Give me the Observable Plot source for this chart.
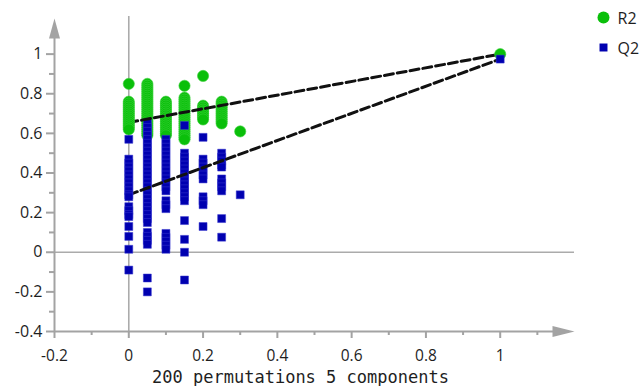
<!DOCTYPE html>
<html><head><meta charset="utf-8">
<script src="https://cdn.jsdelivr.net/npm/d3@7"></script>
<script src="https://cdn.jsdelivr.net/npm/@observablehq/plot@0.6"></script>
<style>
html,body{margin:0;padding:0;background:#fff;}
</style>
</head><body><div id="chart"></div>
<script>
// Permutation correlation positions (x) and the R2 / Q2 values read at each
const permCorr = [0, 0.05, 0.1, 0.15, 0.2, 0.25, 0.3];
const r2Perm = [
  [0.85, 0.76, 0.75, 0.74, 0.73, 0.72, 0.71, 0.70, 0.69, 0.68, 0.67, 0.66, 0.65, 0.64, 0.63, 0.62],
  [0.85, 0.84, 0.83, 0.82, 0.81, 0.80, 0.79, 0.78, 0.77, 0.76, 0.75, 0.74, 0.73, 0.72, 0.71, 0.70, 0.69, 0.68, 0.67, 0.66, 0.65, 0.64, 0.63, 0.62, 0.61, 0.60, 0.59],
  [0.76, 0.75, 0.74, 0.73, 0.72, 0.71, 0.70, 0.69, 0.68, 0.67, 0.66, 0.65, 0.64, 0.63, 0.62, 0.61, 0.60, 0.59],
  [0.84, 0.78, 0.77, 0.76, 0.75, 0.74, 0.73, 0.72, 0.71, 0.70, 0.69, 0.68, 0.67, 0.66, 0.65, 0.64, 0.63, 0.62, 0.61, 0.60, 0.59, 0.58, 0.57],
  [0.89, 0.74, 0.73, 0.72, 0.71, 0.70, 0.69, 0.68, 0.67],
  [0.76, 0.75, 0.74, 0.73, 0.72, 0.71, 0.70, 0.69, 0.68, 0.67, 0.66, 0.65],
  [0.61]
];
const q2Perm = [
  [0.57, 0.47, 0.45, 0.43, 0.41, 0.39, 0.37, 0.35, 0.33, 0.31, 0.29, 0.28, 0.23, 0.21, 0.19, 0.18, 0.13, 0.08, 0.015, -0.09],
  [0.65, 0.63, 0.61, 0.59, 0.57, 0.55, 0.53, 0.51, 0.49, 0.47, 0.45, 0.43, 0.41, 0.39, 0.37, 0.35, 0.33, 0.31, 0.29, 0.27, 0.25, 0.23, 0.21, 0.19, 0.17, 0.15, 0.10, 0.08, 0.06, 0.04, -0.13, -0.20],
  [0.57, 0.55, 0.53, 0.51, 0.49, 0.47, 0.45, 0.43, 0.41, 0.39, 0.37, 0.35, 0.33, 0.31, 0.26, 0.24, 0.22, 0.095, 0.075, 0.055, 0.035, 0.015],
  [0.64, 0.50, 0.48, 0.46, 0.44, 0.42, 0.40, 0.38, 0.36, 0.34, 0.32, 0.30, 0.28, 0.26, 0.16, 0.065, 0.0, -0.14],
  [0.58, 0.47, 0.45, 0.43, 0.41, 0.39, 0.37, 0.28, 0.26, 0.24, 0.13],
  [0.50, 0.48, 0.46, 0.44, 0.43, 0.37, 0.35, 0.33, 0.31, 0.17, 0.076],
  [0.29]
];
// Original model
const origCorr = [1];
const origR2 = [1.0];
const origQ2 = [0.975];
// Regression line intercepts at correlation 0
const r2Intercept = 0.655;
const q2Intercept = 0.29;

const seriesNames = ["R2", "Q2"];
const caption = "200 permutations 5 components";
const xTicks = [-0.2, 0, 0.2, 0.4, 0.6, 0.8, 1];
const xMinorTicks = [-0.1, 0.1, 0.3, 0.5, 0.7, 0.9, 1.1];
const yTicks = [-0.4, -0.2, 0, 0.2, 0.4, 0.6, 0.8, 1];
const yMinorTicks = [-0.3, -0.1, 0.1, 0.3, 0.5, 0.7, 0.9];
const xDomain = [-0.2, 1.2];
const yDomain = [-0.4, 1.2];

// ---- build tables ----
const r2Data = permCorr.flatMap((c, i) => r2Perm[i].map(v => ({c, v})))
  .concat(origCorr.map((c, i) => ({c, v: origR2[i]})));
const q2Data = permCorr.flatMap((c, i) => q2Perm[i].map(v => ({c, v})))
  .concat(origCorr.map((c, i) => ({c, v: origQ2[i]})));
const r2Line = [{c: 0, v: r2Intercept}, {c: origCorr[0], v: origR2[0]}];
const q2Line = [{c: 0, v: q2Intercept}, {c: origCorr[0], v: origQ2[0]}];

const GREEN = "#0abf0a";
const BLUE = "#0000b0";
const AXIS = "#a3a3a3";
const TEXT = "#1e1e1e";
const fmt = d => String(Math.round(d * 10) / 10);

const arrowRight = {draw(ctx) { ctx.moveTo(0, 0); ctx.lineTo(-22, -5.5); ctx.lineTo(-22, 5.5); ctx.closePath(); }};
const arrowUp = {draw(ctx) { ctx.moveTo(0, 0); ctx.lineTo(-5.5, 20); ctx.lineTo(5.5, 20); ctx.closePath(); }};

const mid = d => d.c > 0 && d.c < 1;
const ends = d => !(d.c > 0 && d.c < 1);

const chart = Plot.plot({
  width: 642,
  height: 386,
  marginLeft: 54,
  marginRight: 68,
  marginTop: 14,
  marginBottom: 55,
  style: {fontFamily: "'Open Sans', sans-serif", fontSize: "16px", background: "#fff"},
  x: {domain: xDomain, axis: null, label: null},
  y: {domain: yDomain, axis: null, label: null},
  marks: [
    // reference lines at 0
    Plot.ruleX([0], {y1: yDomain[0], y2: 1.19, stroke: "#ababab", strokeWidth: 1.6}),
    Plot.ruleY([0], {x1: xDomain[0], x2: xDomain[1], stroke: "#ababab", strokeWidth: 1.6}),
    // axis lines + arrows
    Plot.ruleY([yDomain[0]], {x1: xDomain[0], x2: 1.17, stroke: AXIS, strokeWidth: 2}),
    Plot.ruleX([xDomain[0]], {y1: yDomain[0], y2: 1.15, stroke: AXIS, strokeWidth: 2}),
    Plot.dot([0], {x: () => xDomain[1], y: () => yDomain[0], symbol: arrowRight, fill: AXIS, stroke: null}),
    Plot.dot([0], {x: () => xDomain[0], y: () => 1.18, symbol: arrowUp, fill: AXIS, stroke: null}),
    // ticks and labels
    Plot.axisX(xTicks, {anchor: "bottom", label: null, tickSize: 7, tickPadding: 11, tickFormat: fmt, stroke: AXIS, strokeWidth: 2, fill: TEXT, fontSize: 15.5, lineAnchor: "top"}),
    Plot.axisX(xMinorTicks, {anchor: "bottom", label: null, tickSize: 4, tickFormat: () => "", stroke: AXIS, strokeWidth: 2}),
    Plot.axisY(yTicks, {anchor: "left", label: null, tickSize: 8, tickPadding: 4, tickFormat: fmt, stroke: AXIS, strokeWidth: 2, fill: TEXT, fontSize: 16}),
    Plot.axisY(yMinorTicks, {anchor: "left", label: null, tickSize: 5, tickFormat: () => "", stroke: AXIS, strokeWidth: 2}),
    // permutation points (inner columns)
    Plot.dot(r2Data.filter(mid), {x: "c", y: "v", r: 5.6, fill: GREEN, stroke: "#3dd23d", strokeWidth: 0.6}),
    Plot.dot(q2Data.filter(mid), {x: "c", y: "v", r: 4.5, symbol: "square", fill: BLUE, stroke: "#3a3ad0", strokeWidth: 0.5}),
    // regression lines
    Plot.line(r2Line, {x: "c", y: "v", stroke: "#111", strokeWidth: 3, strokeDasharray: "9,4"}),
    Plot.line(q2Line, {x: "c", y: "v", stroke: "#111", strokeWidth: 3, strokeDasharray: "9,4"}),
    // x=0 column and original model
    Plot.dot(r2Data.filter(ends), {x: "c", y: "v", r: 5.6, fill: GREEN, stroke: "#3dd23d", strokeWidth: 0.6}),
    Plot.dot(q2Data.filter(ends), {x: "c", y: "v", r: 4.5, symbol: "square", fill: BLUE, stroke: "#3a3ad0", strokeWidth: 0.5}),
    // legend
    Plot.dot([seriesNames[0]], {frameAnchor: "top-right", dx: 29, dy: 3, r: 6, fill: GREEN}),
    Plot.dot([seriesNames[1]], {frameAnchor: "top-right", dx: 29, dy: 33, r: 4.5, symbol: "square", fill: BLUE}),
    Plot.text([seriesNames[0]], {text: d => d, frameAnchor: "top-right", dx: 43, dy: 4, textAnchor: "start", lineAnchor: "middle", fill: TEXT, fontSize: 16}),
    Plot.text([seriesNames[1]], {text: d => d, frameAnchor: "top-right", dx: 43, dy: 34, textAnchor: "start", lineAnchor: "middle", fill: TEXT, fontSize: 16}),
    // caption
    Plot.text([caption], {text: d => d, frameAnchor: "bottom", dx: -14, dy: 46, lineAnchor: "middle", fontFamily: "'DejaVu Sans Mono', monospace", fontSize: 17, fill: TEXT})
  ]
});
document.getElementById("chart").appendChild(chart);
</script>
</body></html>
